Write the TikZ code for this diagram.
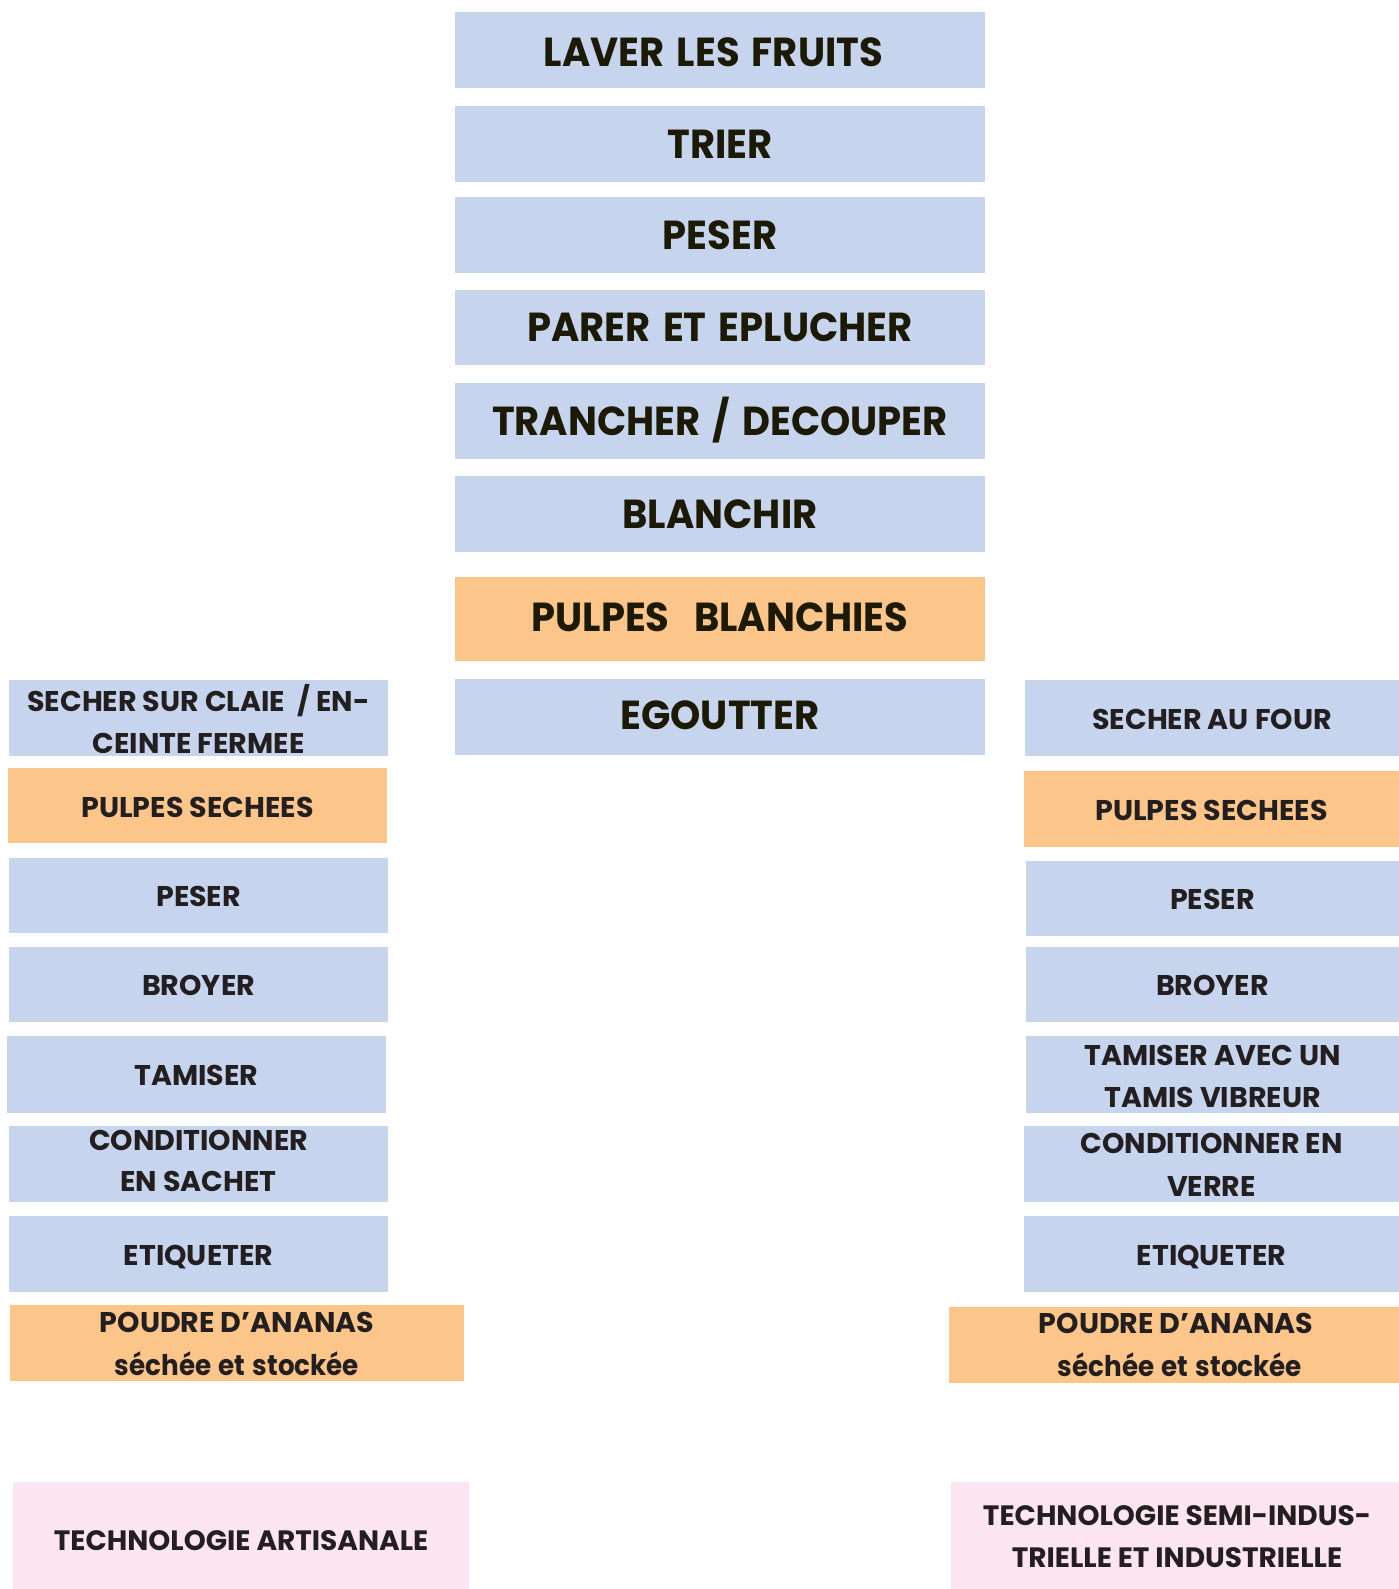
\documentclass[tikz,border=0pt]{standalone}
\usepackage{fontspec}
\setmainfont{Poppins}
\newfontfamily\bigfont{Poppins}[FakeStretch=0.95, WordSpace=1.5]
\newfontfamily\lowfont{Poppins}[FakeStretch=0.92, WordSpace=1.3]
\definecolor{bluebox}{HTML}{C6D4EE}
\definecolor{orangebox}{HTML}{FCC589}
\definecolor{pinkbox}{HTML}{FCE5F0}
\definecolor{txtdark}{HTML}{1C1A05}
\definecolor{txtside}{HTML}{231F20}
\newcommand\mkbox[6]{\node[boxbase, fill=#6, minimum width={(#4)-(#2)}, minimum height={(#5)-(#3)}] (#1) at ({((#2)+(#4))/2},{((#3)+(#5))/2}) {};}
\tikzset{
  boxbase/.style={draw=none, inner sep=0pt, outer sep=0pt, rectangle},
  bigtxt/.style={anchor=base, inner sep=0pt, text=txtdark, font=\bigfont\fontsize{40.5}{44}\selectfont\bfseries},
  sidetxt/.style={anchor=base, inner sep=0pt, text=txtside, font=\fontsize{28.5}{32}\selectfont\bfseries},
  lowtxt/.style={anchor=base, inner sep=0pt, text=txtside, font=\lowfont\fontsize{28.5}{32}\selectfont\bfseries},
  techtxt/.style={anchor=base, inner sep=0pt, text=txtside, font=\fontsize{28}{30}\selectfont\bfseries},
}
\begin{document}
\begin{tikzpicture}[x=1pt,y=-1pt]
\fill[white] (0,0) rectangle (1399,1589);
\useasboundingbox (0,0) rectangle (1399,1589);
% centre column
\mkbox{c1}{455}{12.2}{985}{88.1}{bluebox}
\mkbox{c2}{455}{106.4}{985}{182.3}{bluebox}
\mkbox{c3}{455}{197.5}{985}{272.5}{bluebox}
\mkbox{c4}{455}{289.7}{985}{364.7}{bluebox}
\mkbox{c5}{455}{382.9}{985}{458.9}{bluebox}
\mkbox{c6}{455}{476.1}{985}{552.1}{bluebox}
\mkbox{c7}{455}{577}{985}{660.7}{orangebox}
\mkbox{c8}{455}{679}{985}{754.7}{bluebox}
\node[bigtxt] (tc1) at ([xshift=-6.6pt]c1.center |- 0,67) {LAVER LES FRUITS};
\node[bigtxt] (tc2) at (c2.center |- 0,159) {TRIER};
\node[bigtxt] (tc3) at (c3.center |- 0,250) {PESER};
\node[bigtxt] (tc4) at (c4.center |- 0,341.5) {PARER ET EPLUCHER};
\node[bigtxt] (tc5) at (c5.center |- 0,435) {TRANCHER / DECOUPER};
\node[bigtxt] (tc6) at (c6.center |- 0,528) {BLANCHIR};
\node[bigtxt] (tc7) at (c7.center |- 0,631) {PULPES\ \ BLANCHIES};
\node[bigtxt] (tc8) at (c8.center |- 0,729) {EGOUTTER};
% left column
\mkbox{l1}{9.2}{680}{388}{755.5}{bluebox}
\mkbox{l2}{8}{768}{387}{843.3}{orangebox}
\mkbox{l3}{9.2}{858}{388}{933}{bluebox}
\mkbox{l4}{9.2}{947.2}{388}{1022.1}{bluebox}
\mkbox{l5}{7}{1036.3}{386}{1112.5}{bluebox}
\mkbox{l6}{9.2}{1126}{388}{1201.7}{bluebox}
\mkbox{l7}{9.2}{1216}{388}{1291.7}{bluebox}
\mkbox{l8}{10}{1305}{464}{1380.7}{orangebox}
\mkbox{l9}{13.2}{1482}{469}{1589}{pinkbox}
\node[sidetxt] (tl1a) at (l1.center |- 0,711.7) {SECHER SUR CLAIE\ \ / EN-};
\node[sidetxt] (tl1b) at (l1.center |- 0,753.3) {CEINTE FERMEE};
\node[sidetxt] (tl2) at (l2.center |- 0,817.7) {PULPES SECHEES};
\node[sidetxt] (tl3) at (l3.center |- 0,906) {PESER};
\node[sidetxt] (tl4) at (l4.center |- 0,995.5) {BROYER};
\node[sidetxt] (tl5) at (l5.center |- 0,1085) {TAMISER};
\node[sidetxt] (tl6a) at (l6.center |- 0,1150) {CONDITIONNER};
\node[sidetxt] (tl6b) at (l6.center |- 0,1191.7) {EN SACHET};
\node[sidetxt] (tl7) at (l7.center |- 0,1265.7) {ETIQUETER};
\node[sidetxt] (tl8a) at (l8.center |- 0,1332.3) {POUDRE D’ANANAS};
\node[lowtxt] (tl8b) at (l8.center |- 0,1375) {séchée et stockée};
\node[techtxt] (tl9) at (l9.center |- 0,1550.7) {TECHNOLOGIE ARTISANALE};
% right column
\mkbox{r1}{1025}{680}{1399}{755.5}{bluebox}
\mkbox{r2}{1024}{771}{1399}{846.7}{orangebox}
\mkbox{r3}{1026}{861}{1399}{936}{bluebox}
\mkbox{r4}{1026}{947.2}{1399}{1022.1}{bluebox}
\mkbox{r5}{1026}{1036.3}{1399}{1113}{bluebox}
\mkbox{r6}{1024}{1126}{1399}{1201.7}{bluebox}
\mkbox{r7}{1024}{1216}{1399}{1291.7}{bluebox}
\mkbox{r8}{949}{1307}{1399}{1382.7}{orangebox}
\mkbox{r9}{951}{1482}{1399}{1589}{pinkbox}
\node[sidetxt] (tr1) at (r1.center |- 0,729) {SECHER AU FOUR};
\node[sidetxt] (tr2) at (r2.center |- 0,820) {PULPES SECHEES};
\node[sidetxt] (tr3) at (r3.center |- 0,909) {PESER};
\node[sidetxt] (tr4) at (r4.center |- 0,995.5) {BROYER};
\node[sidetxt] (tr5a) at (r5.center |- 0,1065.7) {TAMISER AVEC UN};
\node[sidetxt] (tr5b) at (r5.center |- 0,1107) {TAMIS VIBREUR};
\node[sidetxt] (tr6a) at (r6.center |- 0,1153.3) {CONDITIONNER EN};
\node[sidetxt] (tr6b) at (r6.center |- 0,1196) {VERRE};
\node[sidetxt] (tr7) at (r7.center |- 0,1265.7) {ETIQUETER};
\node[sidetxt] (tr8a) at ([xshift=2pt]r8.center |- 0,1333.3) {POUDRE D’ANANAS};
\node[lowtxt] (tr8b) at ([xshift=6pt]r8.center |- 0,1376.7) {séchée et stockée};
\node[techtxt] (tr9a) at ([xshift=2pt]r9.center |- 0,1525.7) {TECHNOLOGIE SEMI-INDUS-};
\node[techtxt] (tr9b) at ([xshift=2pt]r9.center |- 0,1567.3) {TRIELLE ET INDUSTRIELLE};
\end{tikzpicture}
\end{document}
